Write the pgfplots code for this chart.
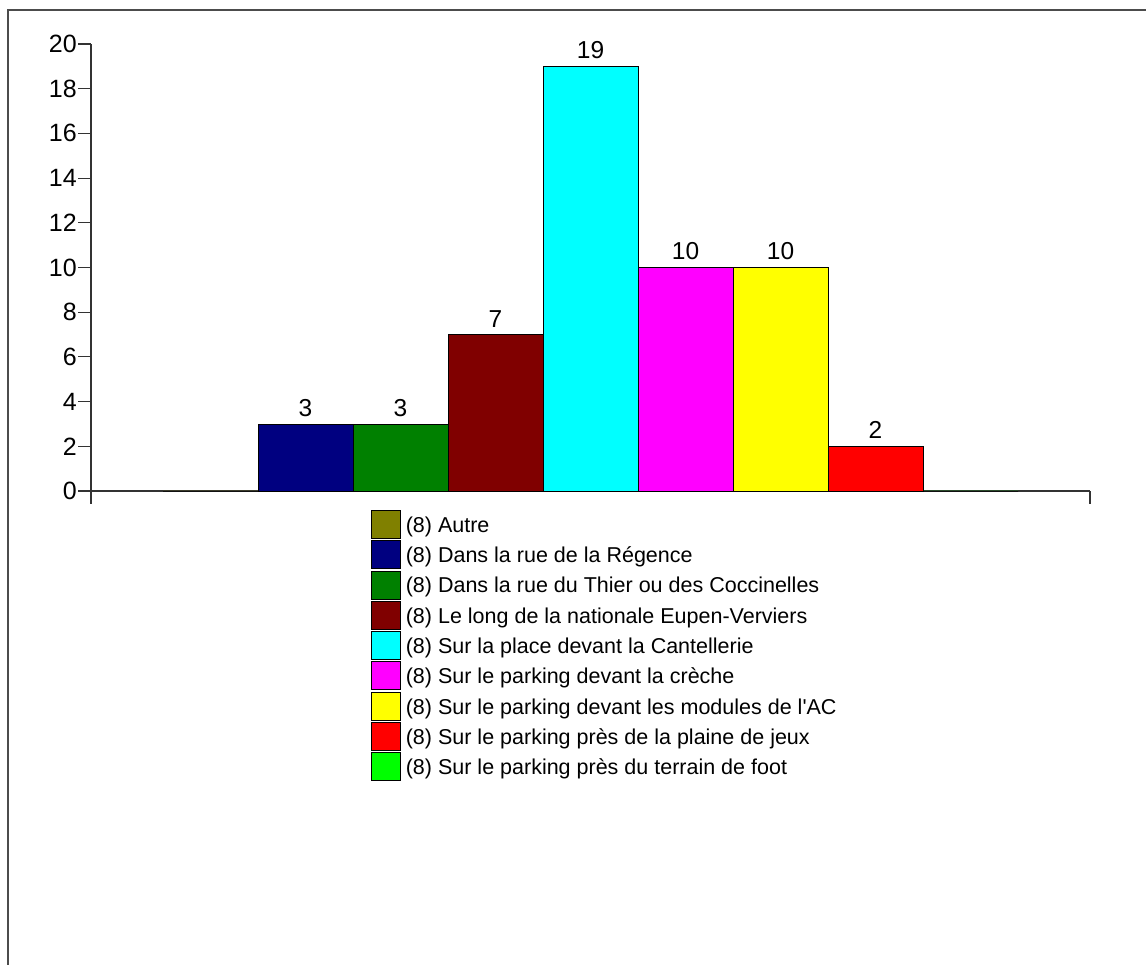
\documentclass[border=0pt]{standalone}
\usepackage{pgfplots}
\pgfplotsset{compat=1.18}
\usepackage{fontspec}
\setmainfont{Liberation Sans}[Ligatures=TeXOff]
\definecolor{cAutre}{RGB}{128,128,0}
\definecolor{cRegence}{RGB}{0,0,128}
\definecolor{cThier}{RGB}{0,128,0}
\definecolor{cEupen}{RGB}{128,0,0}
\definecolor{cCant}{RGB}{0,255,255}
\definecolor{cCreche}{RGB}{255,0,255}
\definecolor{cAC}{RGB}{255,255,0}
\definecolor{cPlaine}{RGB}{255,0,0}
\definecolor{cFoot}{RGB}{0,255,0}
\begin{document}
\begin{tikzpicture}
\useasboundingbox (0,0) rectangle (1146pt,965pt);
\draw[line width=2pt, black!70] (8pt,0pt) -- (8pt,955pt) -- (1146pt,955pt);
\begin{axis}[
  at={(91pt,474pt)}, anchor=south west,
  scale only axis, width=999pt, height=447pt,
  xmin=0, xmax=999, ymin=0, ymax=20,
  axis lines*=left,
  axis line style={black!80, line width=1.1pt},
  tick style={black!80, line width=1.1pt},
  tick align=outside,
  major tick length=13pt,
  xtick={0,999}, xticklabels={},
  ytick={0,2,...,20},
  /pgf/number format/assume math mode=true,
  yticklabel style={font=\fontsize{25}{30}\selectfont, inner sep=1pt},
  ybar=0pt, bar width=95,
  clip=false,
  every axis plot/.append style={draw=black, line width=0.8pt},
  nodes near coords style={font=\fontsize{24.5}{28}\selectfont, text=black, inner sep=0pt, yshift=7pt},
  legend style={
    draw=none, fill=none, inner sep=0pt, outer sep=0pt,
    at={(axis description cs:0.2803,-0.0425)}, anchor=north west,
    font=\fontsize{21.5}{25}\selectfont,
    nodes={inner sep=0pt, anchor=base west},
    /tikz/row sep=1.5pt, /tikz/column sep=5pt,
  },
  legend cell align=left,
  legend image code/.code={\draw[#1, draw=black, line width=0.8pt] (0pt,-6pt) rectangle (29pt,22pt);},
]
\addplot[fill=cAutre] coordinates {(499.5,0)};
\addplot[fill=cRegence, nodes near coords] coordinates {(499.5,3)};
\addplot[fill=cThier, nodes near coords] coordinates {(499.5,3)};
\addplot[fill=cEupen, nodes near coords] coordinates {(499.5,7)};
\addplot[fill=cCant, nodes near coords] coordinates {(499.5,19)};
\addplot[fill=cCreche, nodes near coords] coordinates {(499.5,10)};
\addplot[fill=cAC, nodes near coords] coordinates {(499.5,10)};
\addplot[fill=cPlaine, nodes near coords] coordinates {(499.5,2)};
\addplot[fill=cFoot] coordinates {(499.5,0)};
\legend{(8) Autre,
(8) Dans la rue de la Régence,
(8) Dans la rue du Thier ou des Coccinelles,
(8) Le long de la nationale Eupen-Verviers,
(8) Sur la place devant la Cantellerie,
(8) Sur le parking devant la crèche,
(8) Sur le parking devant les modules de l'AC,
(8) Sur le parking près de la plaine de jeux,
(8) Sur le parking près du terrain de foot}
\end{axis}
\end{tikzpicture}
\end{document}
